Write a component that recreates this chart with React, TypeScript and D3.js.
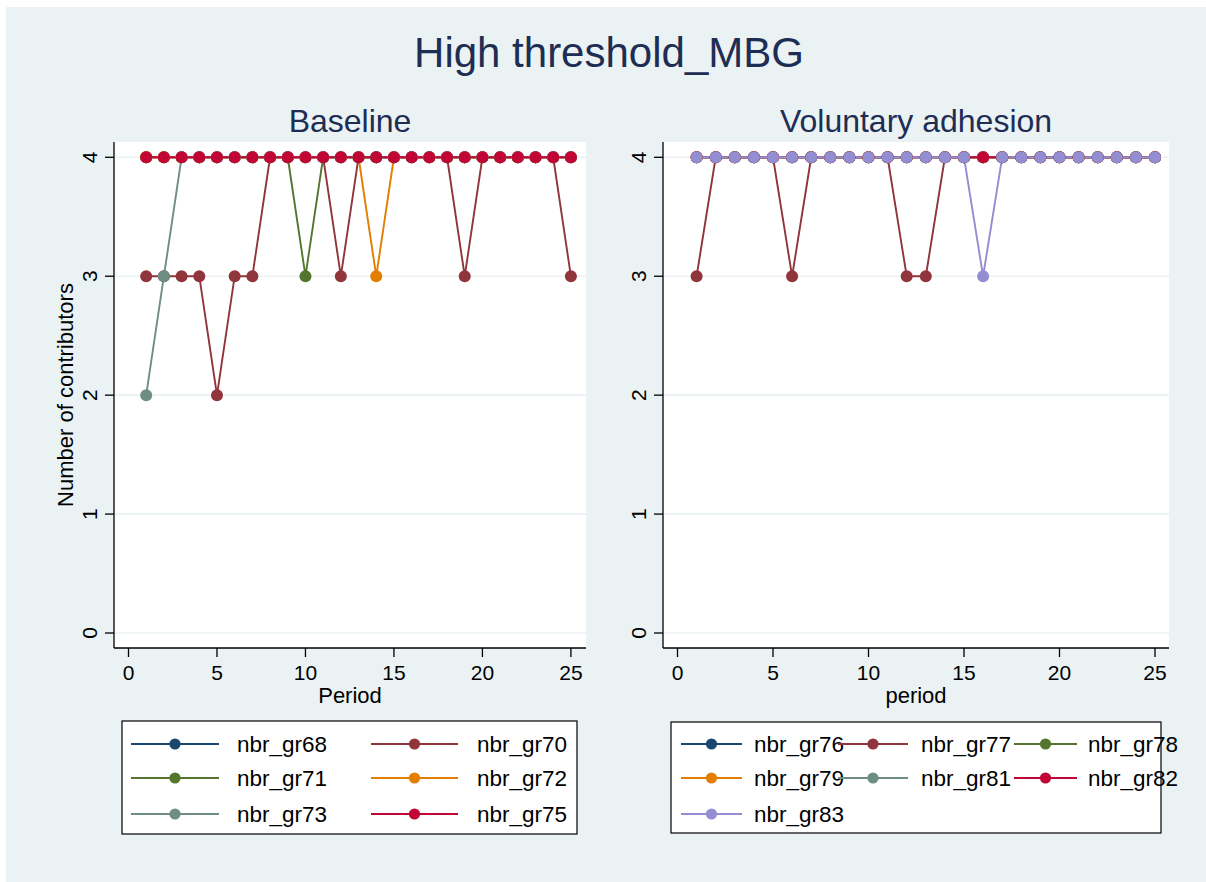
import React from "react";
import * as d3 from "d3";

const periods: number[] = Array.from({ length: 25 }, (_, i) => i + 1);

// Baseline panel series
const gr68: number[] = [4,4,4,4,4,4,4,4,4,4,4,4,4,4,4,4,4,4,4,4,4,4,4,4,4];
const gr70: number[] = [3,3,3,3,2,3,3,4,4,4,4,3,4,4,4,4,4,4,3,4,4,4,4,4,3];
const gr71: number[] = [4,4,4,4,4,4,4,4,4,3,4,4,4,4,4,4,4,4,4,4,4,4,4,4,4];
const gr72: number[] = [4,4,4,4,4,4,4,4,4,4,4,4,4,3,4,4,4,4,4,4,4,4,4,4,4];
const gr73: number[] = [2,3,4,4,4,4,4,4,4,4,4,4,4,4,4,4,4,4,4,4,4,4,4,4,4];
const gr75: number[] = [4,4,4,4,4,4,4,4,4,4,4,4,4,4,4,4,4,4,4,4,4,4,4,4,4];

// Voluntary adhesion panel series
const gr76: number[] = [4,4,4,4,4,4,4,4,4,4,4,4,4,4,4,4,4,4,4,4,4,4,4,4,4];
const gr77: number[] = [3,4,4,4,4,3,4,4,4,4,4,3,3,4,4,4,4,4,4,4,4,4,4,4,4];
const gr78: number[] = [4,4,4,4,4,4,4,4,4,4,4,4,4,4,4,4,4,4,4,4,4,4,4,4,4];
const gr79: number[] = [4,4,4,4,4,4,4,4,4,4,4,4,4,4,4,4,4,4,4,4,4,4,4,4,4];
const gr81: number[] = [4,4,4,4,4,4,4,4,4,4,4,4,4,4,4,4,4,4,4,4,4,4,4,4,4];
const gr82: number[] = [4,4,4,4,4,4,4,4,4,4,4,4,4,4,4,4,4,4,4,4,4,4,4,4,4];
const gr83: number[] = [4,4,4,4,4,4,4,4,4,4,4,4,4,4,4,3,4,4,4,4,4,4,4,4,4];

const xTicks: number[] = [0, 5, 10, 15, 20, 25];
const yTicks: number[] = [0, 1, 2, 3, 4];

const mainTitle = "High threshold_MBG";
const yTitle = "Number of contributors";

const C = {
  navy: "#1A476F",
  maroon: "#90353B",
  forest: "#55752F",
  dkorange: "#E37E00",
  teal: "#6E8E84",
  cranberry: "#C10534",
  lavender: "#938DD2",
};

type Series = { name: string; values: number[]; color: string };

const baselineSeries: Series[] = [
  { name: "nbr_gr68", values: gr68, color: C.navy },
  { name: "nbr_gr70", values: gr70, color: C.maroon },
  { name: "nbr_gr71", values: gr71, color: C.forest },
  { name: "nbr_gr72", values: gr72, color: C.dkorange },
  { name: "nbr_gr73", values: gr73, color: C.teal },
  { name: "nbr_gr75", values: gr75, color: C.cranberry },
];

const voluntarySeries: Series[] = [
  { name: "nbr_gr76", values: gr76, color: C.navy },
  { name: "nbr_gr77", values: gr77, color: C.maroon },
  { name: "nbr_gr78", values: gr78, color: C.forest },
  { name: "nbr_gr79", values: gr79, color: C.dkorange },
  { name: "nbr_gr81", values: gr81, color: C.teal },
  { name: "nbr_gr82", values: gr82, color: C.cranberry },
  { name: "nbr_gr83", values: gr83, color: C.lavender },
];

const FONT = "'Liberation Sans', Arial, Helvetica, sans-serif";
const TITLE_COLOR = "#1E2D53";

type PanelProps = {
  title: string;
  xTitle: string;
  series: Series[];
  left: number;
  right: number;
  x0: number;
  x25: number;
  legend: {
    box: [number, number, number, number];
    cols: { lineX0: number; lineX1: number; textX: number }[];
    rows: number[];
  };
};

const TOP = 142;
const BOTTOM = 648;

function Panel({ title, xTitle, series, left, right, x0, x25, legend }: PanelProps) {
  const x = d3.scaleLinear().domain([0, 25]).range([x0, x25]);
  const y = d3.scaleLinear().domain([0, 4]).range([633, 157.3]);
  const line = d3
    .line<number>()
    .x((_, i) => x(periods[i]))
    .y((v) => y(v));
  const ncols = legend.cols.length;
  return (
    <g>
      <rect x={left} y={TOP} width={right - left} height={BOTTOM - TOP} fill="#FFFFFF" />
      {yTicks.map((t) => (
        <line key={"g" + t} x1={left} x2={right} y1={y(t)} y2={y(t)} stroke="#EAF2F3" strokeWidth={1.6} />
      ))}
      {series.map((s) => (
        <path key={"l" + s.name} d={line(s.values) || ""} fill="none" stroke={s.color} strokeWidth={1.9} />
      ))}
      {series.map((s) => (
        <g key={"m" + s.name}>
          {s.values.map((v, i) => (
            <circle key={i} cx={x(periods[i])} cy={y(v)} r={6} fill={s.color} />
          ))}
        </g>
      ))}
      {/* axes */}
      <line x1={left} x2={left} y1={TOP} y2={BOTTOM} stroke="#000" strokeWidth={1.3} />
      <line x1={left} x2={right} y1={BOTTOM} y2={BOTTOM} stroke="#000" strokeWidth={1.3} />
      {yTicks.map((t) => (
        <g key={"yt" + t}>
          <line x1={left - 9} x2={left} y1={y(t)} y2={y(t)} stroke="#000" strokeWidth={1.3} />
          <text
            transform={`translate(${left - 17},${y(t)}) rotate(-90)`}
            textAnchor="middle"
            fontSize={21}
            fontFamily={FONT}
            fill="#000"
          >
            {t}
          </text>
        </g>
      ))}
      {xTicks.map((t) => (
        <g key={"xt" + t}>
          <line x1={x(t)} x2={x(t)} y1={BOTTOM} y2={BOTTOM + 9} stroke="#000" strokeWidth={1.3} />
          <text x={x(t)} y={680} textAnchor="middle" fontSize={21} fontFamily={FONT} fill="#000">
            {t}
          </text>
        </g>
      ))}
      <text x={(left + right) / 2} y={703} textAnchor="middle" fontSize={22} fontFamily={FONT} fill="#000">
        {xTitle}
      </text>
      <text x={(left + right) / 2} y={132} textAnchor="middle" fontSize={32} fontFamily={FONT} fill={TITLE_COLOR}>
        {title}
      </text>
      {/* legend */}
      <rect
        x={legend.box[0]}
        y={legend.box[1]}
        width={legend.box[2] - legend.box[0]}
        height={legend.box[3] - legend.box[1]}
        fill="#FFFFFF"
        stroke="#000"
        strokeWidth={1.2}
      />
      {series.map((s, i) => {
        const col = legend.cols[i % ncols];
        const ry = legend.rows[Math.floor(i / ncols)];
        return (
          <g key={"lg" + s.name}>
            <line x1={col.lineX0} x2={col.lineX1} y1={ry} y2={ry} stroke={s.color} strokeWidth={1.9} />
            <circle cx={(col.lineX0 + col.lineX1) / 2} cy={ry} r={5.6} fill={s.color} />
            <text x={col.textX} y={ry + 8} fontSize={22.5} fontFamily={FONT} fill="#000">
              {s.name}
            </text>
          </g>
        );
      })}
    </g>
  );
}

export default function App() {
  return (
    <svg
      width={1206}
      height={882}
      style={{ position: "absolute", left: 0, top: 0, display: "block" }}
    >
      <rect x={0} y={0} width={1206} height={882} fill="#FFFFFF" />
      <rect x={6} y={7} width={1200} height={875} fill="#EAF2F3" />
      <text x={609} y={67} textAnchor="middle" fontSize={42} fontFamily={FONT} fill={TITLE_COLOR}>
        {mainTitle}
      </text>
      <text
        transform={`translate(73,395) rotate(-90)`}
        textAnchor="middle"
        fontSize={22}
        fontFamily={FONT}
        fill="#000"
      >
        {yTitle}
      </text>
      <Panel
        title="Baseline"
        xTitle="Period"
        series={baselineSeries}
        left={114}
        right={586}
        x0={128.5}
        x25={570.9}
        legend={{
          box: [122, 721, 577, 834],
          cols: [
            { lineX0: 131, lineX1: 219, textX: 237 },
            { lineX0: 371, lineX1: 458, textX: 477 },
          ],
          rows: [744, 778, 814],
        }}
      />
      <Panel
        title="Voluntary adhesion"
        xTitle="period"
        series={voluntarySeries}
        left={663}
        right={1169}
        x0={677.5}
        x25={1155}
        legend={{
          box: [671, 722, 1161, 833],
          cols: [
            { lineX0: 681, lineX1: 742, textX: 754 },
            { lineX0: 838, lineX1: 908, textX: 921 },
            { lineX0: 1014, lineX1: 1077, textX: 1088 },
          ],
          rows: [744, 778, 814],
        }}
      />
    </svg>
  );
}
